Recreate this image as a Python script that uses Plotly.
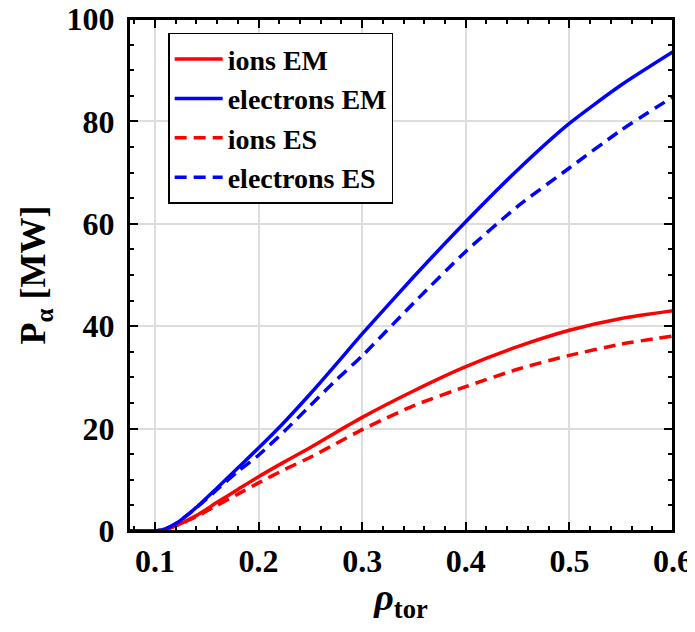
import plotly.graph_objects as go

rho = [0.075, 0.08, 0.09, 0.1, 0.11, 0.12, 0.14, 0.16, 0.18, 0.2, 0.225, 0.25,
       0.275, 0.3, 0.35, 0.4, 0.45, 0.5, 0.55, 0.6]
ions_em = [0, 0, 0, 0, 0.3, 1.0, 3.0, 5.6, 8.1, 10.6, 13.5, 16.3, 19.3, 22.2,
           27.4, 32.1, 36.0, 39.2, 41.5, 43.0]
electrons_em = [0, 0, 0, 0, 0.4, 1.4, 4.6, 8.4, 12.3, 16.2, 21.3, 26.8, 32.6, 38.5,
                49.7, 60.4, 70.5, 79.6, 87.1, 93.6]
ions_es = [0, 0, 0, 0, 0.3, 1.0, 2.8, 5.0, 7.2, 9.4, 12.0, 14.4, 17.1, 19.8,
           24.5, 28.2, 31.6, 34.3, 36.5, 38.1]
electrons_es = [0, 0, 0, 0, 0.4, 1.4, 4.5, 8.1, 11.6, 14.8, 19.5, 24.5, 29.5, 34.2,
                44.6, 54.6, 63.4, 70.9, 78.3, 84.8]

x_ticks = [0.1, 0.2, 0.3, 0.4, 0.5, 0.6]
y_ticks = [0, 20, 40, 60, 80, 100]

FONT = "Liberation Serif"

fig = go.Figure()
series = [
    ("ions EM", ions_em, "#ff0000", "solid"),
    ("electrons EM", electrons_em, "#0000ff", "solid"),
    ("ions ES", ions_es, "#ff0000", "12px,7px"),
    ("electrons ES", electrons_es, "#0000ff", "12px,7px"),
]
for name, vals, col, dash in series:
    fig.add_trace(go.Scatter(
        x=rho, y=vals, mode="lines", name=name,
        line=dict(color=col, width=3.5, dash=dash, shape="spline", smoothing=0.6),
    ))

axis_common = dict(
    showline=True, linecolor="black", linewidth=2, mirror="allticks",
    ticks="inside", ticklen=9, tickwidth=2, tickcolor="black",
    showgrid=True, gridcolor="#dddddd", gridwidth=1.5,
    zeroline=False, automargin=False,
    ticklabeloverflow="allow",
    tickfont=dict(family=FONT, size=32, color="black", weight="bold"),
    minor=dict(ticks="inside", ticklen=5, tickwidth=1.5, tickcolor="black", showgrid=False),
)

fig.update_xaxes(
    range=[0.075, 0.6], tickvals=x_ticks, ticktext=[f"{v:.1f}" for v in x_ticks],
    minor_dtick=0.02, minor_tick0=0.0, ticklabelstandoff=1,
    title=dict(text="<i>ρ</i><sub>tor</sub>", font=dict(family=FONT, size=38, color="black", weight="bold"), standoff=6),
    **axis_common,
)
fig.update_yaxes(
    range=[0, 100], tickvals=y_ticks, ticktext=[str(v) for v in y_ticks],
    minor_dtick=5, minor_tick0=0, ticklabelstandoff=6,
    title=dict(text="P<sub>α</sub> [MW]", font=dict(family=FONT, size=36, color="black", weight="bold"), standoff=10),
    **axis_common,
)

# page body has an 8px margin: size the figure so it fits the window and the
# plot area lands at 129..673 x 19..531 in the page
fig.update_layout(
    width=687, height=616,
    margin=dict(l=121, r=22, t=11, b=93),
    paper_bgcolor="white", plot_bgcolor="white",
    shapes=[dict(type="rect", xref="paper", yref="paper", x0=0, y0=0, x1=1, y1=1,
                 line=dict(color="black", width=2), fillcolor="rgba(0,0,0,0)", layer="above")],
    legend=dict(
        x=0.072, y=0.973, xanchor="left", yanchor="top",
        bgcolor="white", bordercolor="black", borderwidth=1.5,
        font=dict(family=FONT, size=28, color="black", weight="bold"),
        tracegroupgap=0, itemwidth=48,
    ),
)

fig.write_html("out.html")
